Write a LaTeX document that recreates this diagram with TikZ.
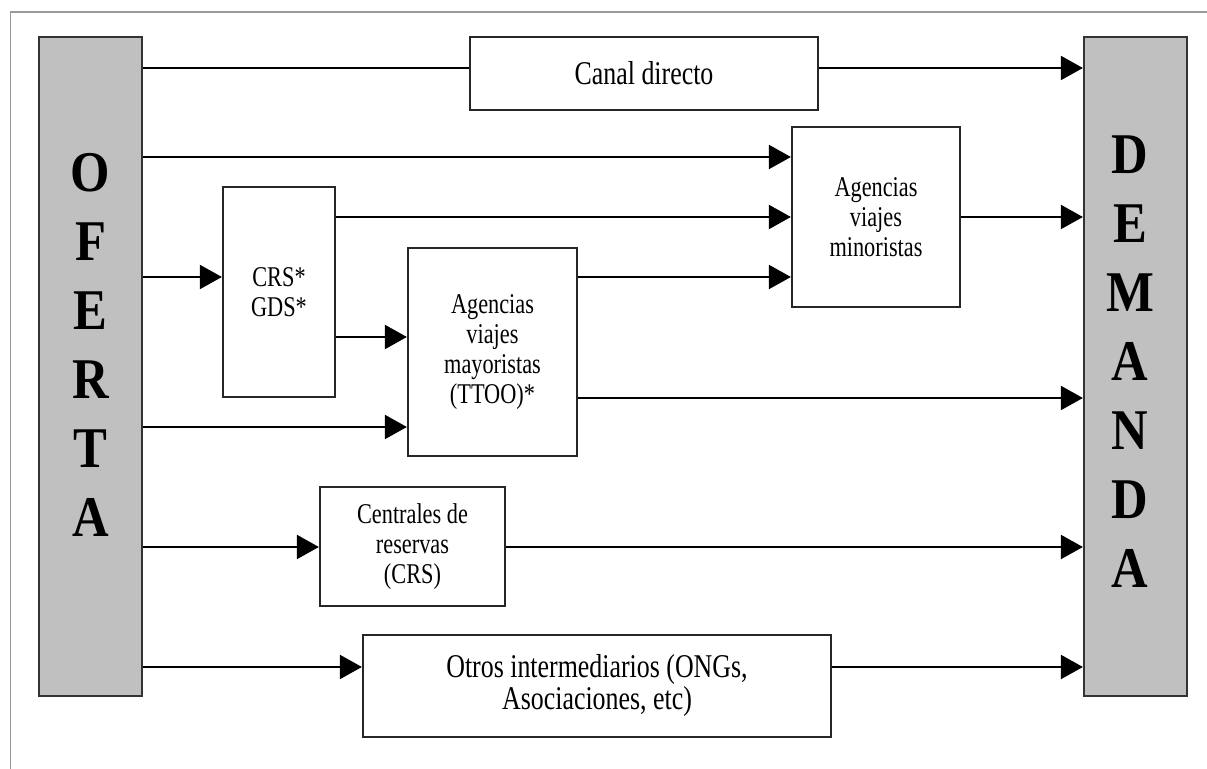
\documentclass[tikz,border=0pt]{standalone}
\usepackage{fontspec}
\setmainfont{Liberation Serif}[FakeStretch=0.78]
\newfontfamily\lettersfont{Liberation Serif}[FakeStretch=0.88]
\usetikzlibrary{calc,arrows.meta}

\definecolor{sidegray}{RGB}{192,192,192}

\begin{document}
\begin{tikzpicture}[x=0.5pt, y=-0.5pt,
    main/.style = {draw=black!85, line width=1.1pt, fill=white, inner sep=0pt, align=center,
                   font=\fontsize{14.3}{15}\selectfont},
    wide/.style = {main, font=\fontsize{16.6}{16}\selectfont},
    side/.style = {draw=black!80, line width=1.1pt, fill=sidegray, inner sep=0pt,
                   minimum width=51.5pt, minimum height=329.5pt},
    letters/.style = {align=center, font=\lettersfont\fontsize{28.8}{34.5}\selectfont\bfseries},
    arr/.style = {-{Triangle[length=11pt,width=12pt]}, line width=1pt},
    lane/.style = {line width=1pt}]

    \useasboundingbox (0,0) rectangle (1207,769);

    % Frame
    \draw[black!40, line width=0.8pt] (10.5,769) -- (10.5,12) -- (1207,12);

    % Nodes
    \node[side] (oferta) at (90.5,366.5) {};
    \node[side] (demanda) at (1135.5,366.5) {};
    \node[letters] (oftext) at (90.5,344.5) {O\\F\\E\\R\\T\\A};
    \node[letters] (detext) at (1130,362) {D\\E\\M\\A\\N\\D\\A};

    \node[wide, minimum width=174pt, minimum height=36.5pt] (canal) at (644,73.5) {Canal directo};
    \node[main, minimum width=84pt, minimum height=90pt] (minor) at (876,217) {Agencias\\viajes\\minoristas};
    \node[main, minimum width=56pt, minimum height=105pt] (crs) at (279,292) {CRS*\\GDS*};
    \node[main, minimum width=84.5pt, minimum height=104pt] (mayor) at (492.5,352) {Agencias\\viajes\\mayoristas\\(TTOO)*};
    \node[main, minimum width=92.5pt, minimum height=59.5pt] (centr) at (412.5,546.5) {Centrales de\\reservas\\(CRS)};
    \node[wide, minimum width=234pt, minimum height=51pt] (otros) at (597,686) {Otros intermediarios (ONGs,\\Asociaciones, etc)};

    % Lanes
    \coordinate (l1) at (0,68);
    \coordinate (l2) at (0,157);
    \coordinate (l3) at (0,217);
    \coordinate (l4) at (0,277);
    \coordinate (l5) at (0,337);
    \coordinate (l6) at (0,398);
    \coordinate (l7) at (0,427);
    \coordinate (l8) at (0,547);
    \coordinate (l9) at (0,667);

    % Edges
    \draw[lane] (oferta.east |- l1) -- (canal.west |- l1);
    \draw[arr] (canal.east |- l1) -- (demanda.west |- l1);
    \draw[arr] (oferta.east |- l2) -- (minor.west |- l2);
    \draw[arr] (crs.east |- l3) -- (minor.west |- l3);
    \draw[arr] (minor.east |- l3) -- (demanda.west |- l3);
    \draw[arr] (oferta.east |- l4) -- (crs.west |- l4);
    \draw[arr] (mayor.east |- l4) -- (minor.west |- l4);
    \draw[arr] (crs.east |- l5) -- (mayor.west |- l5);
    \draw[arr] (mayor.east |- l6) -- (demanda.west |- l6);
    \draw[arr] (oferta.east |- l7) -- (mayor.west |- l7);
    \draw[arr] (oferta.east |- l8) -- (centr.west |- l8);
    \draw[arr] (centr.east |- l8) -- (demanda.west |- l8);
    \draw[arr] (oferta.east |- l9) -- (otros.west |- l9);
    \draw[arr] (otros.east |- l9) -- (demanda.west |- l9);

\end{tikzpicture}
\end{document}
